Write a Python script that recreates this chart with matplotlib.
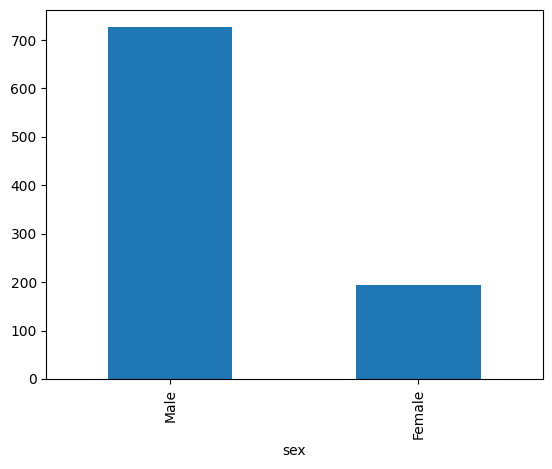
import matplotlib
matplotlib.use("Agg")
import matplotlib.pyplot as plt
import pandas as pd

sex_labels = ["Male", "Female"]
sex_counts = [726, 194]

counts = pd.Series(sex_counts, index=pd.Index(sex_labels, name="sex"))

fig = plt.figure(figsize=(5.52, 4.69), dpi=100)
ax = fig.add_axes([0.0842, 0.192, 0.8986, 0.787])
counts.plot(kind="bar", ax=ax, color="#1f77b4")
ax.set_xlabel("sex")

fig.savefig("out.png", dpi=100)
